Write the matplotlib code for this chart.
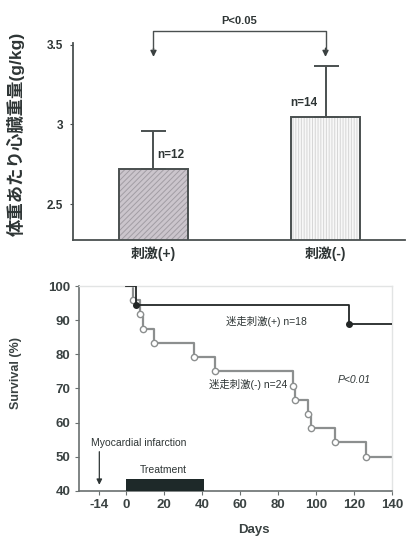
import matplotlib
matplotlib.use("Agg")
import matplotlib.pyplot as plt
import matplotlib.patches as mpatches

plt.rcParams['font.family'] = ['Liberation Sans', 'Noto Sans CJK JP', 'DejaVu Sans']
plt.rcParams['hatch.linewidth'] = 0.7

# ---- heart weight per body weight ----
groups = ['刺激(+)', '刺激(-)']
heart_mean = [2.72, 3.05]
heart_sd = [0.24, 0.32]
group_n = ['n=12', 'n=14']
weight_ticks = [2.5, 3, 3.5]
weight_tick_labels = ['2.5', '3', '3.5']
weight_label = '体重あたり心臓重量(g/kg)'
p_bars = 'P<0.05'

# ---- survival after myocardial infarction ----
days_pos = [0, 5.5, 117.5, 140]
surv_pos = [100, 94.4, 88.9, 88.9]
days_neg = [0, 3.5, 7.5, 9, 15, 36, 47, 88, 89, 96, 97.5, 110, 126.5, 140]
surv_neg = [100, 95.8, 91.7, 87.5, 83.3, 79.2, 75.0, 70.8, 66.7, 62.5, 58.3, 54.2, 50.0, 50.0]
label_pos = '迷走刺激(+) n=18'
label_neg = '迷走刺激(-) n=24'
p_surv = 'P<0.01'
day_ticks = [-14, 0, 20, 40, 60, 80, 100, 120, 140]
surv_ticks = [40, 50, 60, 70, 80, 90, 100]
treatment_days = (0, 41)
infarction_day = -14

ink = '#2e3535'
tick_ink = '#3a4242'

fig = plt.figure(figsize=(4.08, 5.38), dpi=100)

# ================= bar chart =================
ax1 = fig.add_axes([0.1789, 0.5539, 0.8137, 0.3662])
x = [0, 1]
fills = ['#cbc5cc', '#f8f8f8']
hatches = ['//////', '||||||']
hatch_cols = ['#a29da4', '#d6d6d6']
# fill + hatch layer (hatch drawn in a lighter tone)
for xi, m, fc, h, hc in zip(x, heart_mean, fills, hatches, hatch_cols):
    ax1.bar(xi, m, width=0.40, color=fc, hatch=h, edgecolor=hc,
            linewidth=0, zorder=2)
# outline layer
ax1.bar(x, heart_mean, width=0.40, facecolor='none', edgecolor='#4a5050',
        linewidth=1.4, zorder=2.5)
ax1.errorbar(x, heart_mean, yerr=[[0, 0], heart_sd], fmt='none',
             ecolor='#4a5050', elinewidth=1.4, capsize=9, capthick=1.4, zorder=3)

ax1.set_xlim(-0.468, 1.462)
ax1.set_ylim(2.2736, 3.5126)
ax1.spines['top'].set_visible(False)
ax1.spines['right'].set_visible(False)
for s in ('left', 'bottom'):
    ax1.spines[s].set_color('#4a5050')
    ax1.spines[s].set_linewidth(1.3)
ax1.set_yticks(weight_ticks)
ax1.set_yticklabels(weight_tick_labels, fontsize=8.5, fontweight='bold', color=ink)
ax1.tick_params(axis='y', length=2, pad=5, color='#4a5050')
ax1.set_xticks(x)
ax1.set_xticklabels(groups, fontsize=10, fontweight='bold', color=ink)
ax1.tick_params(axis='x', length=0, pad=5)
ax1.set_ylabel(weight_label, fontsize=12.5, fontweight='bold', color=ink)
ax1.yaxis.set_label_coords(-0.145, 0.54)

ax1.text(0.02, heart_mean[0] + 0.09, group_n[0], fontsize=8.5, fontweight='bold',
         color=ink, ha='left', va='center')
ax1.text(0.955, heart_mean[1] + 0.085, group_n[1], fontsize=8.5, fontweight='bold',
         color=ink, ha='right', va='center')

# significance bracket with arrows
y_br = 3.588
ax1.plot([0, 0, 1, 1], [3.47, y_br, y_br, 3.47], color='#4a5050', lw=1.0,
         clip_on=False, zorder=4)
for xi in x:
    ax1.annotate('', xy=(xi, 3.425), xytext=(xi, 3.48), annotation_clip=False,
                 arrowprops=dict(arrowstyle='-|>', color='#3a4040', lw=1.0,
                                 mutation_scale=9, shrinkA=0, shrinkB=0))
ax1.text(0.5, y_br + 0.03, p_bars, fontsize=8, fontweight='bold', color=ink,
         ha='center', va='bottom', clip_on=False)

# ================= survival curves =================
ax2 = fig.add_axes([0.1936, 0.0874, 0.7672, 0.381])
ax2.step(days_neg, surv_neg, where='post', color='#8c8f8f', lw=1.6, zorder=2)
ax2.plot(days_neg[1:-1], surv_neg[1:-1], 'o', ms=4.5, mfc='white',
         mec='#8c8f8f', mew=1.0, zorder=3)
ax2.step(days_pos, surv_pos, where='post', color='#222626', lw=1.3, zorder=4)
ax2.plot(days_pos[1:-1], surv_pos[1:-1], 'o', ms=4, color='#222626', zorder=5)

ax2.set_xlim(-24.7, 140)
ax2.set_ylim(40, 100)
ax2.set_xticks(day_ticks)
ax2.set_xticklabels([str(d) for d in day_ticks], fontsize=9.5,
                    fontweight='bold', color=tick_ink)
ax2.set_yticks(surv_ticks)
ax2.set_yticklabels([str(v) for v in surv_ticks], fontsize=9.5,
                    fontweight='bold', color=tick_ink)
ax2.tick_params(length=3, pad=3, color='#6a7070')
for s in ('left', 'bottom'):
    ax2.spines[s].set_color('#6a7070')
    ax2.spines[s].set_linewidth(1.2)
for s in ('top', 'right'):
    ax2.spines[s].set_color('#e2e4e4')
    ax2.spines[s].set_linewidth(1.0)
ax2.set_xlabel('Days', fontsize=9.5, fontweight='bold', color=tick_ink)
ax2.xaxis.set_label_coords(0.56, -0.16)
ax2.set_ylabel('Survival (%)', fontsize=9, fontweight='bold', color=tick_ink)
ax2.yaxis.set_label_coords(-0.183, 0.575)

ax2.text(74, 89.6, label_pos, fontsize=7.5, color=ink, ha='center', va='center')
ax2.text(85, 71.2, label_neg, fontsize=7.5, color=ink, ha='right', va='center')
ax2.text(120, 72.5, p_surv, fontsize=7.5, color=ink, ha='center', va='center',
         style='italic')

# treatment period and infarction marker
ax2.add_patch(mpatches.Rectangle((treatment_days[0], 40),
                                 treatment_days[1] - treatment_days[0], 3.5,
                                 facecolor='#1e2929', edgecolor='none',
                                 zorder=3, clip_on=False))
ax2.text(19.5, 46.2, 'Treatment', fontsize=7.5, color=ink, ha='center', va='center')
ax2.text(-18.5, 54, 'Myocardial infarction', fontsize=7.5, color=ink,
         ha='left', va='center')
ax2.annotate('', xy=(infarction_day, 41.8), xytext=(infarction_day, 51.5),
             arrowprops=dict(arrowstyle='-|>', color='#2e3535', lw=0.9,
                             mutation_scale=8, shrinkA=0, shrinkB=0))

fig.savefig('out.png', dpi=100)
